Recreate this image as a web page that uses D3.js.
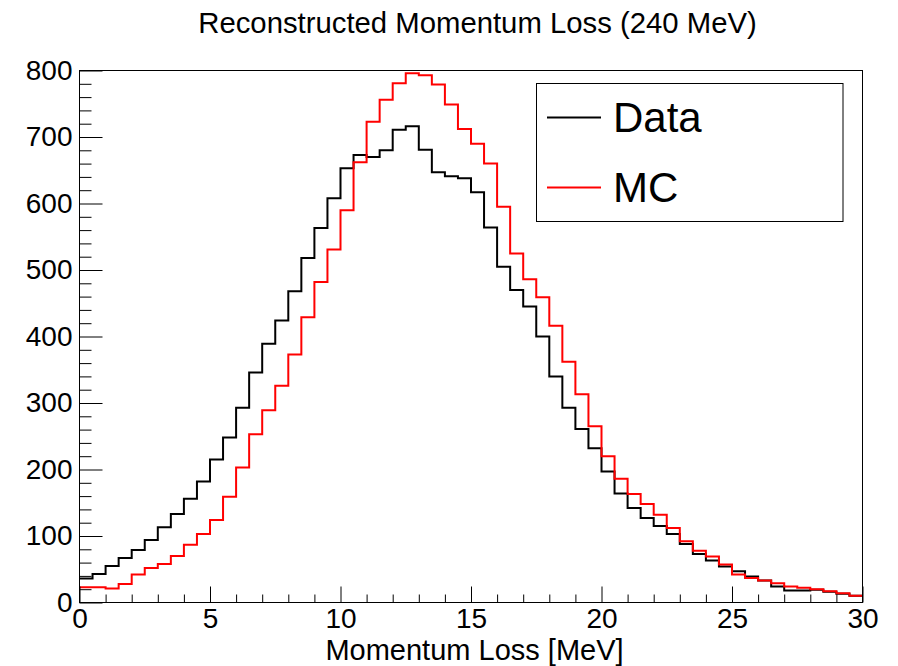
<!DOCTYPE html>
<html>
<head>
<meta charset="utf-8">
<script src="https://cdn.jsdelivr.net/npm/d3@7/dist/d3.min.js"></script>
<style>
  html, body { margin: 0; padding: 0; background: #fff; }
  svg { display: block; }
  text { font-family: "Liberation Sans", Arial, Helvetica, sans-serif; fill: #000; }
</style>
</head>
<body>
<svg id="chart" width="898" height="666"></svg>
<script>
// ---- data (60 bins of 0.5 MeV from 0 to 30 MeV) ----
const binEdgesStart = 0;
const binWidth = 0.5;
const dataCounts = [
  36, 43, 55, 67, 79, 94, 113, 133, 156, 182,
  215, 248, 293, 346, 389, 424, 468, 518, 563, 608,
  653, 673, 670, 680, 711, 716, 681, 647, 641, 638,
  617, 564, 505, 470, 445, 400, 340, 293, 261, 232,
  197, 164, 142, 127, 115, 103, 88, 73, 63, 54,
  47, 39, 33, 24, 18, 18, 19, 16, 13, 10
];
const mcCounts = [
  23, 23, 21, 28, 42, 52, 58, 70, 87, 103,
  124, 159, 203, 253, 289, 326, 373, 429, 482, 531,
  590, 662, 723, 756, 781, 796, 793, 779, 749, 712,
  690, 660, 595, 525, 486, 459, 416, 362, 313, 265,
  220, 186, 163, 148, 132, 112, 92, 78, 69, 57,
  42, 37, 33, 29, 24, 22, 20, 17, 14, 10
];
const seriesNames = ["Data", "MC"];
const seriesColors = ["#000000", "#ff0000"];
const xMajorTicks = [0, 5, 10, 15, 20, 25, 30];
const yMajorTicks = [0, 100, 200, 300, 400, 500, 600, 700, 800];
const titleText = "Reconstructed Momentum Loss (240 MeV)";
const xTitleText = "Momentum Loss [MeV]";

// ---- layout ----
const svg = d3.select("#chart");
const L = 79.5, R = 862.5, T = 70.5, B = 602.5;
const x = d3.scaleLinear().domain([0, 30]).range([L, R]);
const y = d3.scaleLinear().domain([0, 800]).range([B, T]);

// title
svg.append("text")
  .attr("x", 477.5).attr("y", 33)
  .attr("text-anchor", "middle")
  .style("font-size", "29.3px")
  .text(titleText);

// histograms
function stepPoints(counts) {
  const pts = counts.map((c, i) => [binEdgesStart + i * binWidth, c]);
  pts.push([binEdgesStart + counts.length * binWidth, counts[counts.length - 1]]);
  return pts;
}
const line = d3.line().x(d => x(d[0])).y(d => y(d[1])).curve(d3.curveStepAfter);
[dataCounts, mcCounts].forEach((counts, k) => {
  svg.append("path")
    .attr("d", line(stepPoints(counts)))
    .attr("fill", "none")
    .attr("stroke", seriesColors[k])
    .attr("stroke-width", 2);
});

// frame
svg.append("rect")
  .attr("x", L).attr("y", T).attr("width", R - L).attr("height", B - T)
  .attr("fill", "none").attr("stroke", "#000").attr("stroke-width", 1);

// y axis minor ticks
const yMinor = d3.range(0, 801, 20).filter(v => v % 100 !== 0);
const yMinorAxis = d3.axisLeft(y).tickValues(yMinor).tickSize(-12).tickFormat("");
const gYm = svg.append("g").attr("transform", `translate(${L},0)`).call(yMinorAxis);
gYm.select(".domain").remove();

const yAxis = d3.axisLeft(y).tickValues(yMajorTicks).tickSize(-23).tickPadding(7).tickFormat(d3.format("d"));
const gY = svg.append("g").attr("transform", `translate(${L},0)`).call(yAxis);
gY.select(".domain").remove();
gY.selectAll("text").style("font-size", "28px").style("font-family", '"Liberation Sans", Arial, sans-serif').attr("fill", "#000");
gY.selectAll("line").attr("stroke", "#000");
gYm.selectAll("line").attr("stroke", "#000");

// x axis
const xMinor = d3.range(0, 31, 1).filter(v => v % 5 !== 0);
const xMinorAxis = d3.axisBottom(x).tickValues(xMinor).tickSize(-8).tickFormat("");
const gXm = svg.append("g").attr("transform", `translate(0,${B})`).call(xMinorAxis);
gXm.select(".domain").remove();
const xAxis = d3.axisBottom(x).tickValues(xMajorTicks).tickSize(-16).tickPadding(5.5).tickFormat(d3.format("d"));
const gX = svg.append("g").attr("transform", `translate(0,${B})`).call(xAxis);
gX.select(".domain").remove();
gX.selectAll("text").style("font-size", "28px").style("font-family", '"Liberation Sans", Arial, sans-serif').attr("fill", "#000");
gX.selectAll("line").attr("stroke", "#000");
gXm.selectAll("line").attr("stroke", "#000");

// x title
svg.append("text")
  .attr("x", 474.5).attr("y", 659.5)
  .attr("text-anchor", "middle")
  .style("font-size", "29px")
  .text(xTitleText);

// legend
const lg = svg.append("g");
lg.append("rect")
  .attr("x", 536.5).attr("y", 83.5).attr("width", 306.5).attr("height", 138)
  .attr("fill", "#fff").attr("stroke", "#000").attr("stroke-width", 1);
const legendRows = [117.5, 187.5];
seriesNames.forEach((name, k) => {
  lg.append("line")
    .attr("x1", 547).attr("x2", 601)
    .attr("y1", legendRows[k]).attr("y2", legendRows[k])
    .attr("stroke", seriesColors[k]).attr("stroke-width", 2);
  lg.append("text")
    .attr("x", 613).attr("y", legendRows[k] + 14.5)
    .style("font-size", "42px")
    .text(name);
});
</script>
</body>
</html>
